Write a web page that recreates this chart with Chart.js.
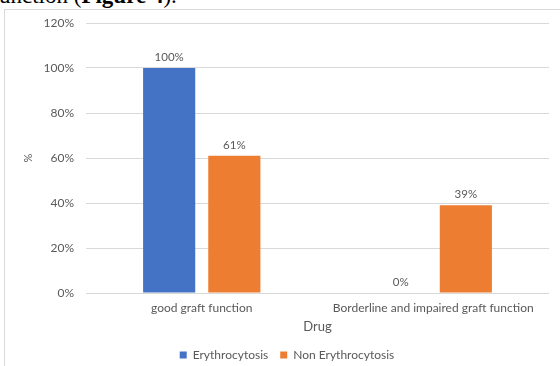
<!DOCTYPE html>
<html lang="en">
<head>
  <meta charset="UTF-8">
  <title>Erythrocytosis by graft function</title>
  <script src="https://cdn.jsdelivr.net/npm/chart.js"></script>
  <style>
    body {
      margin: 0;
      width: 560px;
      height: 366px;
      overflow: hidden;
      background: #fff;
      position: relative;
    }

    .caption {
      position: absolute;
      left: -1px;
      top: -17px;
      font-family: 'Liberation Serif', serif;
      font-size: 23px;
      color: #000;
      white-space: nowrap;
    }

    .frame {
      position: absolute;
      left: 4px;
      top: 9px;
      width: 556px;
      height: 357px;
      border-left: 1px solid #d9d9d9;
      border-top: 1px solid #d9d9d9;
    }

    .frame canvas {
      position: absolute;
      left: 0;
      top: 0;
    }
  </style>
</head>
<body>
  <div class="caption">unction (<b>Figure 4</b>).</div>
  <div class="frame">
    <canvas id="graftChart" width="555" height="361"></canvas>
  </div>

  <script>
    const categories = ['good graft function', 'Borderline and impaired graft function'];
    const erythrocytosis = [100, 0];
    const nonErythrocytosis = [61, 39];
    const yTicks = [0, 20, 40, 60, 80, 100, 120];

    const textGray = '#595959';
    const fontFamily = 'Lato, sans-serif';

    // value labels above each bar
    const barValues = {
      id: 'barValues',
      afterDatasetsDraw(chart) {
        const ctx = chart.ctx;
        ctx.save();
        ctx.font = '11.5px ' + fontFamily;
        ctx.fillStyle = textGray;
        ctx.textAlign = 'center';
        ctx.textBaseline = 'bottom';
        chart.data.datasets.forEach((ds, i) => {
          chart.getDatasetMeta(i).data.forEach((bar, j) => {
            ctx.fillText(ds.data[j] + '%', bar.x, bar.y - 5);
          });
        });
        ctx.restore();
      }
    };

    new Chart(document.getElementById('graftChart'), {
      type: 'bar',
      data: {
        labels: categories,
        datasets: [
          {
            label: 'Erythrocytosis',
            data: erythrocytosis,
            backgroundColor: '#4472c4'
          },
          {
            label: 'Non Erythrocytosis',
            data: nonErythrocytosis,
            backgroundColor: '#ed7d31'
          }
        ]
      },
      options: {
        responsive: false,
        animation: false,
        categoryPercentage: 0.563,
        barPercentage: 0.8,
        layout: {
          padding: { top: 13, right: 11, left: 20, bottom: 0 }
        },
        scales: {
          x: {
            afterFit(scale) {
              scale.height = 44;
            },
            grid: { display: false, drawTicks: false },
            border: { display: false },
            ticks: {
              color: textGray,
              font: { family: fontFamily, size: 12 },
              padding: 8,
              maxRotation: 0
            },
            title: {
              display: true,
              text: 'Drug',
              color: textGray,
              font: { family: fontFamily, size: 13 },
              padding: { top: 0, bottom: 2 }
            }
          },
          y: {
            min: 0,
            max: 120,
            afterBuildTicks(scale) {
              scale.ticks = yTicks.map(v => ({ value: v }));
            },
            afterFit(scale) {
              scale.width = 61;
              scale.paddingTop = 7;
            },
            grid: {
              color: '#d9d9d9',
              drawTicks: false
            },
            border: { display: false },
            ticks: {
              color: textGray,
              font: { family: fontFamily, size: 12 },
              padding: 12,
              callback: v => v + '%'
            },
            title: {
              display: true,
              text: '%',
              color: textGray,
              font: { family: fontFamily, size: 11 },
              padding: { top: -3, bottom: 0 }
            }
          }
        },
        plugins: {
          legend: {
            position: 'bottom',
            labels: {
              color: textGray,
              font: { family: fontFamily, size: 12 },
              boxWidth: 7,
              boxHeight: 7,
              padding: 12
            }
          },
          tooltip: { enabled: false }
        }
      },
      plugins: [barValues]
    });
  </script>
</body>
</html>
